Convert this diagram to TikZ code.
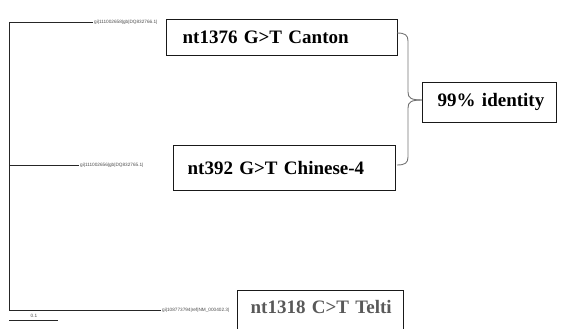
\documentclass[tikz,border=0pt]{standalone}
\usepackage{fontspec}
\setmainfont{Liberation Serif}
\newfontfamily\leaffont{Liberation Sans}
\begin{document}
\begin{tikzpicture}[x=1pt,y=-1pt,
  treeline/.style={draw=black!85,line width=0.9pt},
  leaf/.style={font=\leaffont\fontsize{4.7}{5}\selectfont,inner sep=1pt,text=black!70},
  box/.style={draw=black!90,line width=1.3pt,anchor=north west,font=\bfseries\fontsize{19}{21}\selectfont,
    align=left,text height=12.8,text depth=0,inner ysep=0},
  bracestyle/.style={draw=black!55,line width=0.9pt}]
\useasboundingbox (0,0) rectangle (562,329);
% tree
\coordinate (top) at (9,22);
\coordinate (mid) at (9,165);
\coordinate (bot) at (9,310);
\node[leaf,anchor=west] (l1) at (93,22) {gi|111002658|gb|DQ832766.1|};
\node[leaf,anchor=west] (l2) at (79,165) {gi|111002656|gb|DQ832765.1|};
\node[leaf,anchor=west] (l3) at (161,310) {gi|108773794|ref|NM\_000402.3|};
\draw[treeline] (top) -- (bot);
\draw[treeline] (top) -- (l1.west);
\draw[treeline] (mid) -- (l2.west);
\draw[treeline] (bot) -- (l3.west);
% scale bar
\coordinate (s0) at (9,320);
\coordinate (s1) at (58,320);
\draw[treeline] (s0) -- (s1);
\node[leaf] (sl) at (34,316) {0.1};
% boxes
\node[box,inner xsep=16,text width=199,inner ysep=11.5] (b1) at (166,19) {\mbox{nt1376 G>T Canton}};
\node[box,inner xsep=14,text width=194,inner ysep=16] (b2) at (173,145) {\mbox{nt392 G>T Chinese-4}};
\node[box,inner xsep=15,text width=104,text depth=4,inner ysep=11.5] (b3) at (422,82) {\mbox{99\% identity}};
\node[box,inner xsep=13,text width=140,text depth=40,inner ysep=10,text=black!65] (b4) at (237,290) {\mbox{nt1318 C>T Telti}};
% brace
\coordinate (bt) at (397,33);
\coordinate (bb) at (397,165);
\coordinate (tip) at (b3.west |- 0,100);
\draw[bracestyle] (bt) .. controls (405,33) and (408,35) .. (408,41) -- (408,92) .. controls (408,98) and (411,100) .. (tip);
\draw[bracestyle] (bb) .. controls (405,165) and (408,163) .. (408,157) -- (408,108) .. controls (408,102) and (411,100) .. (tip);
\end{tikzpicture}
\end{document}
